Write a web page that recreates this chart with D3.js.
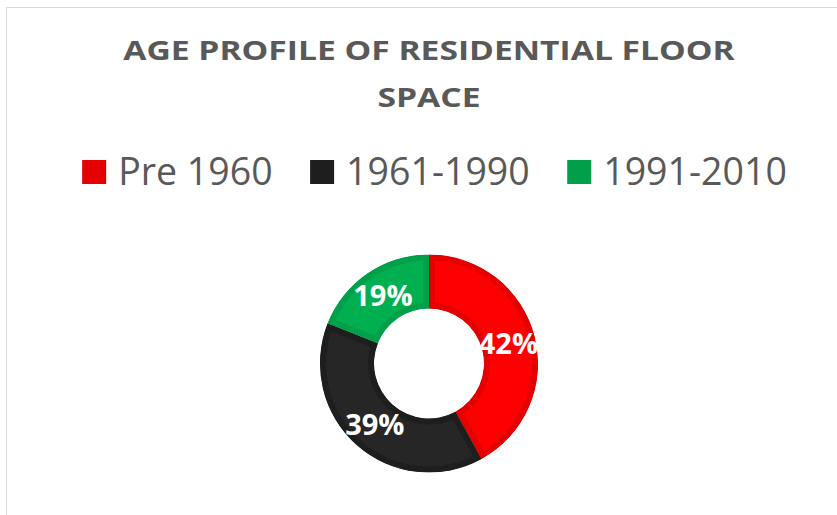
<!DOCTYPE html>
<html>
<head>
<meta charset="utf-8">
<script src="https://cdn.jsdelivr.net/npm/d3@7"></script>
<style>
  body { margin: 0; background: #fff; }
  text { font-family: "Open Sans", sans-serif; }
</style>
</head>
<body>
<div id="chart"></div>
<script>
var svgWidth = 837;
var svgHeight = 515;

// data
var categories = ["Pre 1960", "1961-1990", "1991-2010"];
var shares = [42, 39, 19];
var titleLines = ["AGE PROFILE OF RESIDENTIAL FLOOR", "SPACE"];

var fillColors = ["#FF0000", "#262626", "#00B050"];
var edgeColors = ["#E40000", "#1E1E1E", "#00A04A"];

var svg = d3.select("#chart")
  .append("svg")
  .attr("width", svgWidth)
  .attr("height", svgHeight);

// chart area border (runs off the right / bottom of the picture)
svg.append("rect")
  .attr("x", 6.5)
  .attr("y", 7.5)
  .attr("width", 900)
  .attr("height", 600)
  .attr("fill", "#fff")
  .attr("stroke", "#D9D9D9")
  .attr("stroke-width", 1);

// title - the original font is wider, so stretch the glyphs a bit
var titleStretch = 1.245;
svg.append("g").selectAll("text")
  .data(titleLines)
  .enter()
  .append("text")
  .attr("x", 429)
  .attr("y", (d, i) => 59.5 + i * 47)
  .attr("text-anchor", "middle")
  .attr("font-size", "27px")
  .attr("font-weight", "bold")
  .attr("fill", "#595959")
  .text(d => d)
  .each(function() {
    var w = this.getComputedTextLength();
    d3.select(this)
      .attr("textLength", w * titleStretch)
      .attr("lengthAdjust", "spacingAndGlyphs");
  });

// legend
var legend = svg.append("g");
var items = legend.selectAll("g")
  .data(categories)
  .enter()
  .append("g");

items.append("rect")
  .attr("width", 24)
  .attr("height", 24)
  .attr("y", 160)
  .attr("fill", (d, i) => edgeColors[i]);

var labels = items.append("text")
  .attr("y", 184.5)
  .attr("font-size", "37.5px")
  .attr("fill", "#595959")
  .text(d => d);

var widths = [];
labels.each(function() { widths.push(this.getComputedTextLength()); });
var gapText = 12, gapItem = 37.5;
var total = d3.sum(widths) + categories.length * (24 + gapText) + (categories.length - 1) * gapItem;
var xPos = 434.5 - total / 2;
items.each(function(d, i) {
  d3.select(this).attr("transform", `translate(${xPos},0)`);
  d3.select(this).select("text").attr("x", 24 + gapText);
  xPos += 24 + gapText + widths[i] + gapItem;
});

// doughnut
var cx = 429, cy = 363.5;
var outerR = 109, innerR = 55;

var pie = d3.pie().sort(null).value(d => d);
var arc = d3.arc().innerRadius(innerR).outerRadius(outerR);

var donut = svg.append("g")
  .attr("transform", `translate(${cx},${cy})`);

var defs = svg.append("defs");
var arcs = pie(shares);

arcs.forEach((a, i) => {
  defs.append("clipPath")
    .attr("id", "seg" + i)
    .append("path")
    .attr("d", arc(a));
});

donut.selectAll("path.seg")
  .data(arcs)
  .enter()
  .append("path")
  .attr("class", "seg")
  .attr("d", arc)
  .attr("clip-path", (d, i) => `url(#seg${i})`)
  .attr("fill", (d, i) => fillColors[i])
  .attr("stroke", (d, i) => edgeColors[i])
  .attr("stroke-width", 12)
  .attr("stroke-linejoin", "round");

donut.selectAll("text")
  .data(arcs)
  .enter()
  .append("text")
  .attr("transform", d => `translate(${arc.centroid(d)})`)
  .attr("dy", "0.36em")
  .attr("text-anchor", "middle")
  .attr("font-size", "29px")
  .attr("font-weight", "bold")
  .attr("fill", "#fff")
  .text(d => d.data + "%");
</script>
</body>
</html>
